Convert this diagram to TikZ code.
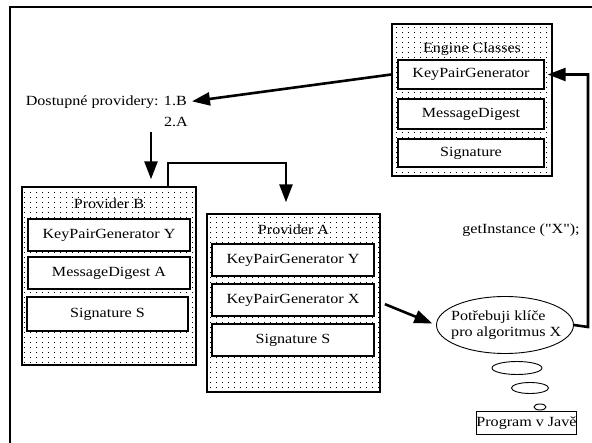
\documentclass[tikz,border=0pt]{standalone}
\usepackage{fontspec}
\setmainfont[FakeStretch=1.15,Ligatures=TeXOff]{Liberation Serif}
\usetikzlibrary{arrows.meta,patterns.meta,shapes.geometric,calc}
\tikzdeclarepattern{
  name=sparsedots,
  type=uncolored,
  bottom left={(-0.5pt,-0.5pt)},
  top right={(5.5pt,4.5pt)},
  tile size={(6pt,5pt)},
  code={\fill (0pt,0pt) rectangle (1pt,1pt);}
}
\tikzset{
  txt/.style={font=\fontsize{14}{15.5}\selectfont},
  outerbox/.style={draw, line width=1.4pt, pattern=sparsedots, pattern color=black, rectangle, inner sep=0pt},
  innerbox/.style={draw, line width=1.4pt, fill=white, rectangle, inner sep=0pt, txt},
  title/.style={inner sep=1pt, txt},
  lbl/.style={inner sep=0pt, txt},
  conn/.style={line width=2.6pt, -{Triangle[length=18pt,width=13pt]}},
  cloud/.style={draw, ellipse, line width=0.9pt, inner sep=0pt, fill=white},
}
\begin{document}
\begin{tikzpicture}[x=1pt,y=-1pt]
\useasboundingbox (0,0) rectangle (592,443);
% frame
\draw[line width=1.4pt] (10,445) -- (10,7) -- (594,7);

% Engine classes
\node[outerbox, minimum width=160pt, minimum height=152pt] (eng) at (472,100) {};
\node[title] (engt) at (472,49) {Engine Classes};
\node[innerbox, minimum width=146pt, minimum height=29pt] (ekpg) at (471,74.5) {KeyPairGenerator};
\node[innerbox, minimum width=146pt, minimum height=30pt] (emd) at (471,114) {MessageDigest};
\node[innerbox, minimum width=146pt, minimum height=28pt] (esig) at (471,153) {Signature};

% available providers
\node[lbl, anchor=east] (dost) at (187,102) {Dostupné providery: 1.B};
\node[lbl, anchor=east] (dost2) at (188,122) {2.A};

% Provider B
\node[outerbox, minimum width=174pt, minimum height=178pt] (provB) at (109,276) {};
\node[title] (provBt) at (109,204) {Provider B};
\node[innerbox, minimum width=162pt, minimum height=32pt] (bkpg) at (109,235) {KeyPairGenerator Y};
\node[innerbox, minimum width=162pt, minimum height=32pt] (bmd) at (109,273) {MessageDigest A};
\node[innerbox, minimum width=161pt, minimum height=34pt] (bsig) at (107.5,314) {Signature S};

% Provider A
\node[outerbox, minimum width=173pt, minimum height=178pt] (provA) at (293.5,303) {};
\node[title] (provAt) at (293.5,230) {Provider A};
\node[innerbox, minimum width=162pt, minimum height=32pt] (akpgy) at (293,260) {KeyPairGenerator Y};
\node[innerbox, minimum width=162pt, minimum height=32pt] (akpgx) at (293,300) {KeyPairGenerator X};
\node[innerbox, minimum width=162pt, minimum height=32pt] (asig) at (293,340) {Signature S};

% need ellipse
\node[cloud, minimum width=137pt, minimum height=57pt] (need) at (505,325) {};
\node[lbl, align=left, anchor=west] (needt) at (451,325) {Potřebuji klíče\\pro algoritmus X};
\node[cloud, minimum width=50pt, minimum height=13pt] (c1) at (517,368) {};
\node[cloud, minimum width=37pt, minimum height=11pt] (c2) at (530,388) {};
\node[cloud, minimum width=12pt, minimum height=6pt] (c3) at (540,407) {};
\node[innerbox, line width=1pt, minimum width=93pt, minimum height=23pt] (prog) at (526.5,423.5) {Program v Javě};

\node[lbl] (gi) at (521,230) {getInstance ("X");};

% connectors
\draw[conn, shorten >=5pt] (eng.west |- ekpg.center) -- (dost.east);
\coordinate (d1) at (151,132);
\draw[conn, shorten >=7pt] (d1) -- (d1 |- provB.north);
\coordinate (b1) at (168,163);
\draw[line width=2.6pt, -{Triangle[length=18pt,width=13pt]}, shorten >=11pt]
  (b1 |- provB.north) -- (b1) -- (286,163) -- (286,0 |- provA.north);
\draw[conn, shorten <=11pt, shorten >=4pt] (akpgx.east) -- (need.west);
\coordinate (r1) at (588,327);
\draw[conn, shorten >=3pt] (need.east) -- (r1) -- (r1 |- ekpg.center) -- (ekpg.east);
\end{tikzpicture}
\end{document}
